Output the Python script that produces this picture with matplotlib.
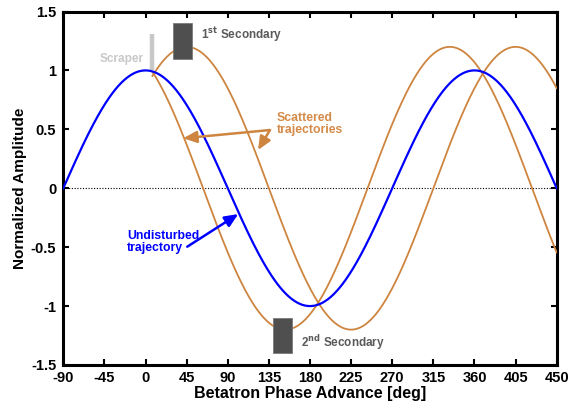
import numpy as np
import matplotlib
matplotlib.use("Agg")
import matplotlib.pyplot as plt
from matplotlib.patches import Rectangle

plt.rcParams['font.family'] = ['Liberation Sans', 'DejaVu Sans']
plt.rcParams['axes.unicode_minus'] = False

# Betatron oscillation parameters (amplitude, phase of maximum in deg)
undisturbed_amp = 1.0
undisturbed_peak = 0.0
scattered_amps = [1.2, 1.2]
scattered_peaks = [45.0, -27.0]
scraper_phase = 7.6

# Collimator blocks: (phase start, phase end, amplitude low, amplitude high)
scraper_block = (scraper_phase, 1.0, 1.31)
secondary_blocks = [(29.7, 50.5, 1.10, 1.40), (139.8, 160.0, -1.40, -1.10)]

x_ticks = [-90, -45, 0, 45, 90, 135, 180, 225, 270, 315, 360, 405, 450]
y_ticks = [-1.5, -1, -0.5, 0, 0.5, 1, 1.5]
y_tick_labels = ['-1.5', '-1', '-0.5', '0', '0.5', '1', '1.5']

blue = '#0000ff'
orange = '#cd853f'
orange_text = '#d48a48'
dark_gray = '#4f4f4f'
label_gray = '#5a5a5a'
light_gray = '#c8c8c8'

fig = plt.figure(figsize=(5.69, 4.05), dpi=100)
ax = fig.add_axes([0.1112, 0.0988, 0.8672, 0.8728])

phase = np.linspace(-90, 450, 1081)
ax.plot(phase, undisturbed_amp * np.cos(np.radians(phase - undisturbed_peak)),
        color=blue, lw=1.6, zorder=4)

phase_s = np.linspace(scraper_phase, 450, 900)
for amp, pk in zip(scattered_amps, scattered_peaks):
    ax.plot(phase_s, amp * np.cos(np.radians(phase_s - pk)),
            color=orange, lw=1.3, zorder=3)

ax.axhline(0, color='black', lw=0.8, ls=(0, (1, 1.5)), zorder=1)

# scraper jaw
ax.plot([scraper_block[0], scraper_block[0]], [scraper_block[1], scraper_block[2]],
        color=light_gray, lw=3.2, solid_capstyle='butt', zorder=2)

for x0, x1, y0, y1 in secondary_blocks:
    ax.add_patch(Rectangle((x0, y0), x1 - x0, y1 - y0, facecolor=dark_gray,
                           edgecolor='#7a7a7a', lw=0.6, zorder=5))

ax.text(-2.4, 1.094, 'Scraper', color=light_gray, fontsize=8.5,
        fontweight='bold', ha='right', va='center')
ax.text(60.7, 1.30, r'1$^{\mathbf{st}}$ Secondary', color=label_gray, fontsize=8.5,
        fontweight='bold', ha='left', va='center')
ax.text(169.8, -1.311, r'2$^{\mathbf{nd}}$ Secondary', color=label_gray, fontsize=8.5,
        fontweight='bold', ha='left', va='center')

ax.text(143.6, 0.545, 'Scattered\ntrajectories', color=orange_text, fontsize=8.8,
        fontweight='bold', ha='left', va='center', linespacing=0.95)
ax.text(-20, -0.454, 'Undisturbed\ntrajectory', color=blue, fontsize=8.8,
        fontweight='bold', ha='left', va='center', linespacing=0.95)

arrow_kw = dict(arrowstyle='-|>,head_length=0.8,head_width=0.35', lw=1.8,
                shrinkA=0, shrinkB=0)
for hx, hy in [(41.3, 0.424), (123.1, 0.324)]:
    ax.annotate('', xy=(hx, hy), xytext=(136.2, 0.494),
                arrowprops=dict(color=orange, **arrow_kw), zorder=6)
ax.annotate('', xy=(101.5, -0.219), xytext=(45.7, -0.496),
            arrowprops=dict(color=blue, **arrow_kw), zorder=6)

ax.set_xlim(-90, 450)
ax.set_ylim(-1.5, 1.5)
ax.set_xticks(x_ticks)
ax.set_yticks(y_ticks)
ax.set_yticklabels(y_tick_labels)
ax.tick_params(direction='in', length=4, width=1.5, top=True, right=True,
               labelsize=10.5)
ax.tick_params(axis='x', pad=4)
ax.tick_params(axis='y', pad=5)
for lab in ax.get_xticklabels() + ax.get_yticklabels():
    lab.set_fontweight('bold')
for sp in ax.spines.values():
    sp.set_linewidth(2.2)

ax.set_xlabel('Betatron Phase Advance [deg]', fontsize=11.5, fontweight='bold', labelpad=1)
ax.set_ylabel('Normalized Amplitude', fontsize=11, fontweight='bold', labelpad=3)

fig.savefig('out.png', dpi=100)
